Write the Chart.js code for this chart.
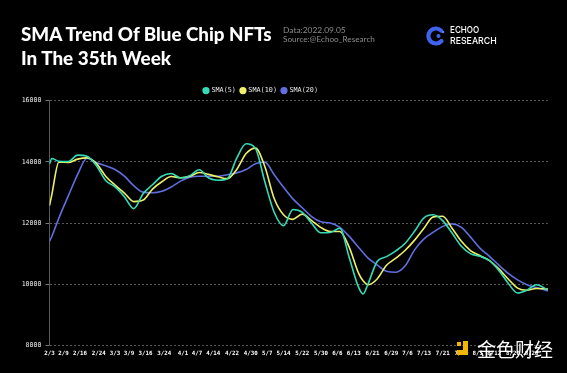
<!DOCTYPE html>
<html>
<head>
<meta charset="utf-8">
<script src="https://cdn.jsdelivr.net/npm/chart.js@4.4.0/dist/chart.umd.min.js"></script>
<style>
  html, body { margin: 0; padding: 0; background: #000; }
  #wrap { position: relative; width: 567px; height: 373px; background: #000; overflow: hidden; }
  #chart { position: absolute; left: 0; top: 0; }
  .title { position: absolute; left: 21px; color: #fff; font-family: Lato, 'Open Sans', sans-serif;
           font-weight: 900; font-size: 19.5px; line-height: 23px; white-space: nowrap; transform-origin: left center; }
  .src { position: absolute; left: 283px; color: #8c8c8c; font-family: Lato, 'Open Sans', sans-serif;
         font-size: 8px; line-height: 8.5px; white-space: nowrap; transform-origin: left center; }
  .logo-txt { position: absolute; left: 450px; color: #fff; font-family: Inter, sans-serif; font-weight: 500;
              font-size: 9.5px; line-height: 10.5px; white-space: nowrap; transform-origin: left center; }
  #wm { position: absolute; left: 477px; top: 338px; color: #fff; font-family: 'Noto Sans CJK SC', sans-serif;
        font-size: 19px; line-height: 21px; white-space: nowrap; }
</style>
</head>
<body>
<div id="wrap">
  <canvas id="chart" width="567" height="373"></canvas>
  <div class="title" id="t1" style="top:22px">SMA Trend Of Blue Chip NFTs</div>
  <div class="title" id="t2" style="top:45.5px">In The 35th Week</div>
  <div class="src" id="s1" style="top:26px">Data:2022.09.05</div>
  <div class="src" id="s2" style="top:34.5px">Source:@Echoo_Research</div>
  <svg style="position:absolute;left:426px;top:26px" width="20" height="20" viewBox="0 0 20 20">
    <path d="M15 4.5 A7.5 7.5 0 1 0 15.5 15" fill="none" stroke="#3f63ee" stroke-width="4.2" stroke-linecap="round"/>
    <circle cx="12.5" cy="10" r="2" fill="#3f63ee"/>
    <circle cx="17" cy="6" r="1.3" fill="#5a7cff"/>
  </svg>
  <div class="logo-txt" id="l1" style="top:25px">ECHOO</div>
  <div class="logo-txt" id="l2" style="top:35.5px">RESEARCH</div>
  <svg style="position:absolute;left:456px;top:341px" width="14" height="16" viewBox="0 0 14 16">
    <rect x="7" y="0" width="5" height="14" fill="#f2b705"/>
    <rect x="1" y="9" width="11" height="5" fill="#f2b705"/>
    <rect x="1" y="1" width="4" height="4" fill="#f2b705"/>
  </svg>
  <div id="wm">金色财经</div>
</div>
<script>
const dates = ['2/3', '2/4', '2/7', '2/11', '2/15', '2/19', '2/23', '2/27', '3/3', '3/7',
  '3/11', '3/15', '3/19', '3/23', '3/27', '3/31', '4/4', '4/8', '4/12', '4/16',
  '4/20', '4/24', '4/28', '5/2', '5/6', '5/10', '5/14', '5/18', '5/22', '5/26',
  '5/30', '6/3', '6/7', '6/11', '6/15', '6/17', '6/19', '6/23', '6/27', '7/1',
  '7/5', '7/9', '7/13', '7/17', '7/21', '7/25', '7/29', '8/2', '8/6', '8/10',
  '8/14', '8/18', '8/22', '8/26', '8/30', '9/4'];

const sma5 = [13930, 14110, 14020, 14010, 14220, 14180, 13880, 13390, 13180, 12860,
  12470, 12960, 13250, 13530, 13620, 13470, 13550, 13740, 13470, 13400,
  13450, 14120, 14590, 14440, 13350, 12350, 11910, 12440, 12350, 11990,
  11680, 11690, 11830, 10890, 9910, 9680, 9990, 10740, 10900, 11090,
  11340, 11730, 12170, 12270, 12080, 11670, 11240, 10990, 10910, 10770,
  10450, 10030, 9710, 9800, 9980, 9810];

const sma10 = [12570, 12930, 13990, 13980, 14090, 14130, 13950, 13530, 13240, 12980,
  12700, 12750, 13110, 13350, 13520, 13480, 13530, 13650, 13590, 13510,
  13450, 13750, 14270, 14450, 13850, 12800, 12270, 12120, 12290, 12080,
  11850, 11720, 11720, 11220, 10370, 10110, 9980, 10170, 10620, 10850,
  11110, 11440, 11830, 12200, 12220, 11830, 11400, 11090, 10930, 10770,
  10500, 10170, 9870, 9800, 9860, 9840];

const sma20 = [11400, 11560, 12160, 12880, 13580, 14120, 13980, 13870, 13750, 13530,
  13220, 13010, 12990, 13040, 13180, 13370, 13500, 13530, 13530, 13530,
  13580, 13640, 13750, 13940, 13990, 13580, 13170, 12790, 12500, 12210,
  12040, 12000, 11860, 11570, 11210, 11030, 10860, 10630, 10420, 10390,
  10600, 11120, 11480, 11700, 11890, 11970, 11860, 11530, 11170, 10910,
  10620, 10350, 10140, 9980, 9890, 9780];

const tickDates = ['2/3', '2/9', '2/16', '2/24', '3/3', '3/9', '3/16', '3/24', '4/1', '4/7',
  '4/14', '4/22', '4/30', '5/7', '5/14', '5/22', '5/30', '6/6', '6/13', '6/21',
  '6/29', '7/6', '7/13', '7/21', '7/29', '8/5', '8/12', '8/20', '8/28'];

const yTicks = [8000, 10000, 12000, 14000, 16000];

// days since 2/3 (2022)
function dayNum(s) {
    const [m, d] = s.split('/').map(Number);
    return Math.round((Date.UTC(2022, m - 1, d) - Date.UTC(2022, 1, 3)) / 864e5);
}
const tickLabel = {};
tickDates.forEach(t => tickLabel[dayNum(t)] = t);
const toPoints = arr => arr.map((v, i) => ({ x: dayNum(dates[i]), y: v }));

// fit header texts to the widths seen in the picture
function fitWidth(id, w) {
    const el = document.getElementById(id);
    el.style.transform = `scaleX(${w / el.offsetWidth})`;
}
fitWidth('t1', 251);
fitWidth('t2', 150);
fitWidth('s2', 92);
fitWidth('s1', 63);
fitWidth('l2', 47);
fitWidth('l1', 29);

const mono = 'DejaVu Sans Mono';

const legendPatch = {
    id: 'legendPatch',
    afterInit(chart) {
        const lg = chart.legend;
        const fit = lg.fit;
        lg.fit = function () { fit.call(this); this.height = 18.5; };
    },
    afterLayout(chart) {
        chart.legend.left -= 13;
        chart.legend.right -= 13;
    }
};

const line = (label, data, color) => ({
    label: label,
    data: toPoints(data),
    borderColor: color,
    backgroundColor: color,
    borderWidth: 1.6,
    pointRadius: 0,
    cubicInterpolationMode: 'monotone',
    fill: false
});

new Chart(document.getElementById('chart'), {
    type: 'line',
    data: {
        datasets: [
            line('SMA(5)', sma5, '#34dcb8'),
            line('SMA(10)', sma10, '#eef06a'),
            line('SMA(20)', sma20, '#5f6fe0')
        ]
    },
    options: {
        responsive: false,
        animation: false,
        layout: { padding: { left: 0, right: 19, top: 82.2, bottom: 0 } },
        plugins: {
            legend: {
                position: 'top',
                labels: {
                    usePointStyle: true,
                    pointStyle: 'circle',
                    boxWidth: 4,
                    boxHeight: 4,
                    padding: 5,
                    color: '#e5e5e5',
                    font: { family: mono, size: 6.8 }
                }
            },
            tooltip: { enabled: false }
        },
        scales: {
            x: {
                type: 'linear',
                min: 0,
                max: dayNum('9/4'),
                afterBuildTicks: s => { s.ticks = tickDates.map(t => ({ value: dayNum(t) })); },
                afterFit: s => { s.height = 27.7; },
                grid: { display: false, drawTicks: false },
                border: { display: false },
                ticks: {
                    autoSkip: false,
                    maxRotation: 0,
                    padding: 5,
                    color: '#fff',
                    font: { family: mono, size: 5.8, weight: 'bold' },
                    callback: v => tickLabel[v] || ''
                }
            },
            y: {
                min: 8000,
                max: 16000,
                afterBuildTicks: s => { s.ticks = yTicks.map(v => ({ value: v })); },
                afterFit: s => { s.width = 49.5; },
                grid: { color: '#555', tickLength: 4, tickColor: '#777', tickBorderDash: [] },
                border: { display: true, color: '#5a5a5a', dash: [2, 2] },
                ticks: {
                    padding: 4,
                    color: '#eee',
                    font: { family: mono, size: 6.6 },
                    callback: v => String(v)
                }
            }
        }
    },
    plugins: [legendPatch]
});
</script>
</body>
</html>
